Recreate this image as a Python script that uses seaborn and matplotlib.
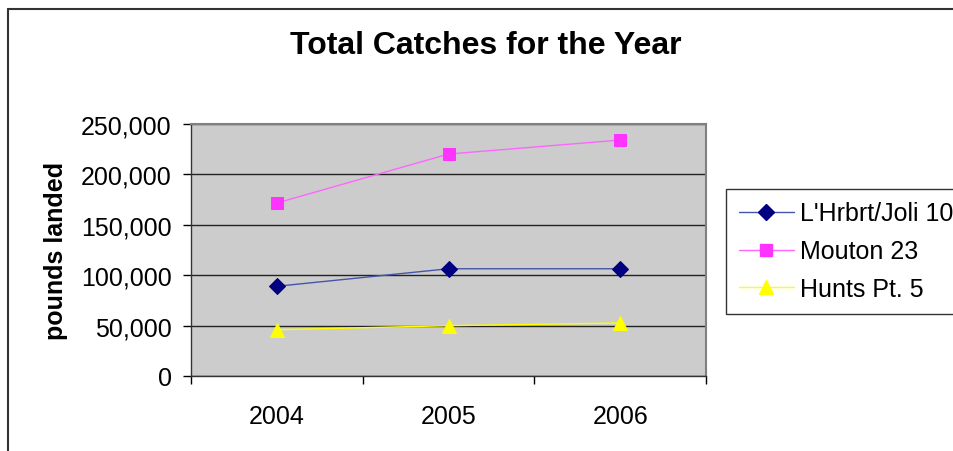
import pandas as pd
import seaborn as sns
import matplotlib.pyplot as plt
from matplotlib.lines import Line2D
from matplotlib.ticker import FuncFormatter, FixedLocator

# data
years = [2004, 2005, 2006]
series_names = ["L'Hrbrt/Joli 10", "Mouton 23", "Hunts Pt. 5"]
lherbert = [89000, 106400, 106400]
mouton = [171600, 220200, 234100]
hunts = [45900, 49900, 52600]
y_ticks = [0, 50000, 100000, 150000, 200000, 250000]

df = pd.DataFrame({"year": years, series_names[0]: lherbert,
                   series_names[1]: mouton, series_names[2]: hunts})
long_df = df.melt(id_vars="year", var_name="site", value_name="pounds")

sns.set_theme(style="white")
plt.rcParams["font.family"] = ["Liberation Sans", "DejaVu Sans"]
plt.rcParams["text.color"] = "black"
plt.rcParams["axes.labelcolor"] = "black"
plt.rcParams["xtick.color"] = "black"
plt.rcParams["ytick.color"] = "black"

fig = plt.figure(figsize=(9.54, 4.52), dpi=100)
ax = fig.add_axes([191 / 954, 1 - 377 / 452, 515 / 954, 252 / 452])
ax.set_facecolor("#CCCCCC")

styles = {
    series_names[0]: dict(line="#4455AA", face="#000080", marker="D", ms=8),
    series_names[1]: dict(line="#FF66FF", face="#FF33FF", marker="s", ms=8),
    series_names[2]: dict(line="#FFFF00", face="#FFFF00", marker="^", ms=10),
}

for name in series_names:
    st = styles[name]
    sns.lineplot(data=long_df[long_df["site"] == name], x="year", y="pounds",
                 ax=ax, color=st["line"], linewidth=1, marker=st["marker"],
                 markersize=st["ms"], markerfacecolor=st["face"],
                 markeredgecolor=st["face"], label=name, legend=False)

ax.set_xlim(2003.5, 2006.5)
ax.set_ylim(0, 250000)
ax.set_xticks(years)
ax.set_xticklabels([str(y) for y in years])
ax.xaxis.set_minor_locator(FixedLocator([2003.5, 2004.5, 2005.5, 2006.5]))
ax.tick_params(axis="x", which="major", length=0, pad=20, labelsize=18)
ax.tick_params(axis="x", which="minor", direction="out", length=6, width=1,
               color="black", bottom=True)
ax.set_yticks(y_ticks)
ax.yaxis.set_major_formatter(FuncFormatter(lambda v, p: f"{int(v):,}"))
ax.tick_params(axis="y", direction="out", length=6, width=1, color="black",
               left=True, pad=8, labelsize=18)
ax.grid(axis="y", color="#222222", linewidth=1)
ax.grid(axis="x", visible=False)

ax.set_xlabel("")
ax.set_ylabel("pounds landed", fontsize=18, fontweight="bold", labelpad=9)

for side in ["top", "right"]:
    ax.spines[side].set_color("#808080")
    ax.spines[side].set_linewidth(1.5)
for side in ["left", "bottom"]:
    ax.spines[side].set_color("#333333")
    ax.spines[side].set_linewidth(1)

fig.text(486 / 954, 1 - 46 / 452, "Total Catches for the Year",
         ha="center", va="center", fontsize=23, fontweight="bold")

handles = [Line2D([], [], color=styles[n]["line"], linewidth=1,
                  marker=styles[n]["marker"], markersize=styles[n]["ms"],
                  markerfacecolor=styles[n]["face"],
                  markeredgecolor=styles[n]["face"]) for n in series_names]
leg = fig.legend(handles, series_names, loc="upper left",
                 bbox_to_anchor=(726 / 954, 1 - 190 / 452), fontsize=18,
                 frameon=True, fancybox=False, edgecolor="black",
                 handlelength=2.2, borderpad=0.5, labelspacing=0.55,
                 handletextpad=0.25, borderaxespad=0)
leg.get_frame().set_linewidth(1)

# outer chart-area border (left and top only visible)
fig.add_artist(Line2D([8 / 954, 8 / 954], [0, 1 - 9.5 / 452],
                      transform=fig.transFigure, color="#333333", linewidth=1.5))
fig.add_artist(Line2D([8 / 954, 1], [1 - 9.5 / 452, 1 - 9.5 / 452],
                      transform=fig.transFigure, color="#333333", linewidth=1.5))

fig.savefig("out.png", dpi=100, facecolor="white")
